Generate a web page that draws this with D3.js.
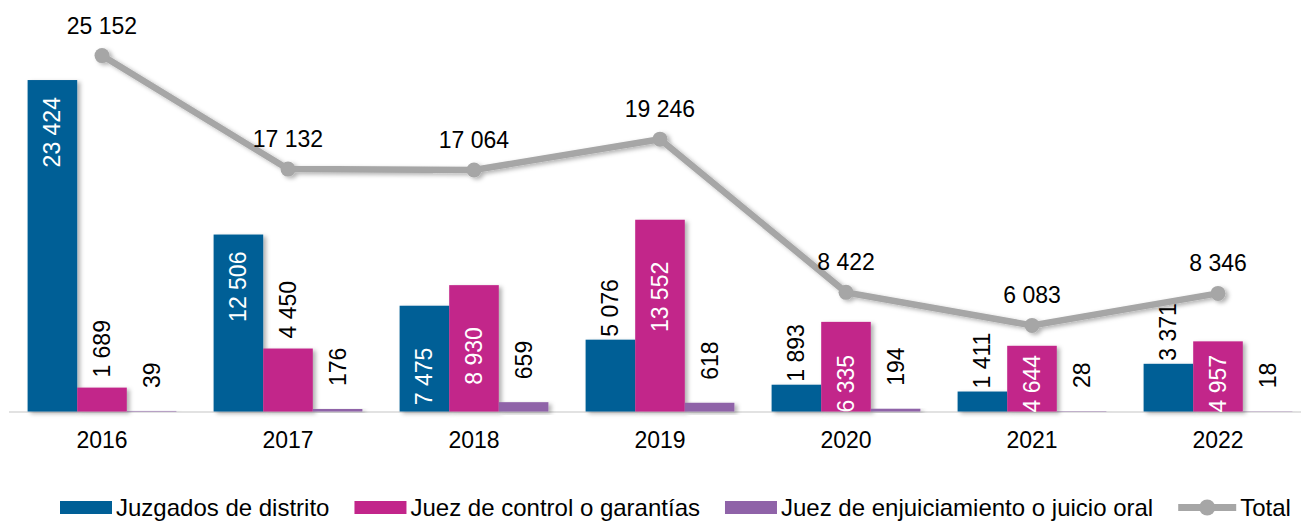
<!DOCTYPE html>
<html>
<head>
<meta charset="utf-8">
<script src="https://cdn.jsdelivr.net/npm/d3@7"></script>
<style>
  html, body { margin: 0; padding: 0; background: #fff; }
  svg { display: block; font-family: "Liberation Sans", Arial, sans-serif; }
</style>
</head>
<body>
<div id="chart"></div>
<script>
const years = ['2016', '2017', '2018', '2019', '2020', '2021', '2022'];
const seriesNames = ['Juzgados de distrito', 'Juez de control o garantías', 'Juez de enjuiciamiento o juicio oral'];
const juzgados = [23424, 12506, 7475, 5076, 1893, 1411, 3371];
const control = [1689, 4450, 8930, 13552, 6335, 4644, 4957];
const enjuiciamiento = [39, 176, 659, 618, 194, 28, 18];
const total = [25152, 17132, 17064, 19246, 8422, 6083, 8346];
const totalName = 'Total';

const colors = ['#005F96', '#C2258A', '#8F63A8'];
const lineColor = '#A6A6A6';
// label placement per series (px)
const outsideGap = [3, 10, 23];
const insideFrom = [7000, 4500, Infinity];

const W = 1301, H = 521;
const baseY = 411.5;

const fmt = d3.formatLocale({ decimal: '.', thousands: ' ', grouping: [3], currency: ['', ''] }).format(',');

const svg = d3.select('#chart').append('svg')
  .attr('width', W)
  .attr('height', H);

const defs = svg.append('defs');
defs.append('filter')
    .attr('id', 'shadow')
    .attr('x', '-20%').attr('y', '-20%')
    .attr('width', '150%').attr('height', '150%')
  .append('feDropShadow')
    .attr('dx', 3).attr('dy', 2)
    .attr('stdDeviation', 2)
    .attr('flood-color', '#000')
    .attr('flood-opacity', 0.3);

const x = d3.scaleBand()
  .domain(years)
  .range([9, 1311])
  .paddingInner(0.2)
  .paddingOuter(0.1);

const xs = d3.scaleBand()
  .domain([0, 1, 2])
  .range([0, x.bandwidth()]);

const y = d3.scaleLinear()
  .domain([0, 29000])
  .range([baseY, baseY - 29000 * 0.01415]);

const seriesData = [juzgados, control, enjuiciamiento];

// axis line
svg.append('line')
  .attr('x1', 9).attr('x2', W)
  .attr('y1', baseY + 0.5).attr('y2', baseY + 0.5)
  .attr('stroke', '#D9D9D9')
  .attr('stroke-width', 1.5);

const groups = svg.selectAll('.grp')
  .data(years)
  .enter()
  .append('g')
    .attr('class', 'grp')
    .attr('transform', d => `translate(${x(d)},0)`);

const cells = groups.selectAll('.cell')
  .data((d, i) => seriesData.map((s, k) => ({ k: k, v: s[i] })))
  .enter();

cells.append('rect')
  .attr('x', d => xs(d.k))
  .attr('y', d => y(d.v))
  .attr('width', xs.bandwidth())
  .attr('height', d => baseY - y(d.v))
  .attr('fill', d => colors[d.k])
  .attr('filter', 'url(#shadow)');

// rotated value labels
cells.append('text')
  .attr('font-size', 23)
  .attr('dy', '0.35em')
  .attr('fill', d => d.v >= insideFrom[d.k] ? '#fff' : '#000')
  .text(d => fmt(d.v))
  .each(function(d) {
    const len = this.getComputedTextLength();
    const cx = xs(d.k) + xs.bandwidth() / 2;
    let bottom;
    if (d.v >= insideFrom[d.k]) {
      const drop = (d.k === 0 && d.v > 10000) ? 17 : 42;
      bottom = Math.min(y(d.v) + drop + len, baseY + 1);
    } else {
      bottom = y(d.v) - outsideGap[d.k];
    }
    d3.select(this).attr('transform', `translate(${cx},${bottom}) rotate(-90)`);
  });

// year labels
svg.selectAll('.year')
  .data(years)
  .enter()
  .append('text')
    .attr('class', 'year')
    .attr('x', d => x(d) + x.bandwidth() / 2)
    .attr('y', 448)
    .attr('text-anchor', 'middle')
    .attr('font-size', 23)
    .text(d => d);

// total line
const cxTotal = (d, i) => x(years[i]) + x.bandwidth() / 2;
const line = d3.line()
  .x(cxTotal)
  .y(d => y(d));

const lineG = svg.append('g').attr('filter', 'url(#shadow)');
lineG.append('path')
  .datum(total)
  .attr('d', line)
  .attr('fill', 'none')
  .attr('stroke', lineColor)
  .attr('stroke-width', 6.5);

lineG.selectAll('.dot')
  .data(total)
  .enter()
  .append('circle')
    .attr('class', 'dot')
    .attr('cx', cxTotal)
    .attr('cy', d => y(d))
    .attr('r', 7.5)
    .attr('fill', lineColor);

svg.selectAll('.tlabel')
  .data(total)
  .enter()
  .append('text')
    .attr('class', 'tlabel')
    .attr('x', cxTotal)
    .attr('y', d => y(d) - 22)
    .attr('text-anchor', 'middle')
    .attr('font-size', 23)
    .text(d => fmt(d));

// legend (kept just inside the bottom edge so descenders are not cut)
const legend = svg.append('g');
const legY = 507.5;
let lx = 60;
seriesNames.forEach((name, k) => {
  legend.append('rect')
    .attr('x', lx).attr('y', legY - 6.5)
    .attr('width', 52).attr('height', 13)
    .attr('fill', colors[k]);
  const t = legend.append('text')
    .attr('x', lx + 56).attr('y', legY + 8)
    .attr('font-size', 24)
    .text(name);
  lx += 56 + t.node().getComputedTextLength() + 25;
});
legend.append('line')
  .attr('x1', lx).attr('x2', lx + 58)
  .attr('y1', legY).attr('y2', legY)
  .attr('stroke', lineColor)
  .attr('stroke-width', 7);
legend.append('circle')
  .attr('cx', lx + 29).attr('cy', legY)
  .attr('r', 8)
  .attr('fill', lineColor);
legend.append('text')
  .attr('x', lx + 62).attr('y', legY + 8)
  .attr('font-size', 24)
  .text(totalName);
</script>
</body>
</html>
